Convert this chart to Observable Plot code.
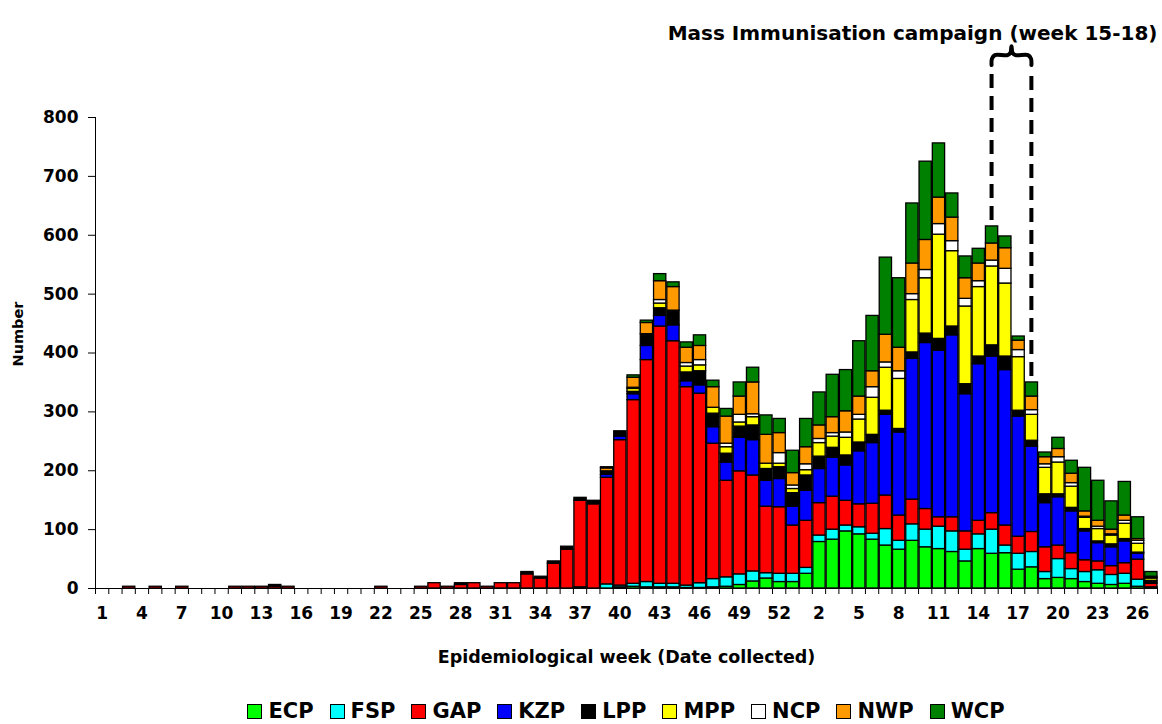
<!DOCTYPE html>
<html>
<head>
<meta charset="utf-8">
<script src="https://cdn.jsdelivr.net/npm/d3@7"></script>
<script src="https://cdn.jsdelivr.net/npm/@observablehq/plot@0.6"></script>
<style>
  body { margin: 0; background: #fff; }
  #wrap { position: relative; width: 1162px; height: 724px; overflow: hidden; }
  #legend { position: absolute; left: 95px; top: 700px; width: 1062px; height: 22px;
            display: flex; justify-content: center; align-items: center;
            font: bold 21px/22px "DejaVu Sans", sans-serif; color: #000; }
  #legend .item { display: inline-flex; align-items: center; margin: 0 8px; white-space: nowrap; }
  #legend .sw { display: inline-block; width: 15px; height: 15px; border: 1.5px solid #000;
                box-sizing: border-box; margin-right: 6px; }
</style>
</head>
<body>
<div id="wrap"><div id="legend"></div></div>
<script>
// Epidemiological weeks: 2009 (weeks 1-53) then 2010 (weeks 1-27)
const weekLabels = [
  1,2,3,4,5,6,7,8,9,10,11,12,13,14,15,16,17,18,19,20,21,22,23,24,25,26,27,28,29,30,
  31,32,33,34,35,36,37,38,39,40,41,42,43,44,45,46,47,48,49,50,51,52,53,
  1,2,3,4,5,6,7,8,9,10,11,12,13,14,15,16,17,18,19,20,21,22,23,24,25,26,27
];
const seriesNames  = ["ECP","FSP","GAP","KZP","LPP","MPP","NCP","NWP","WCP"];
const seriesColors = ["#00ff00","#00ffff","#ff0000","#0000ff","#000000","#ffff00","#ffffff","#ff9900","#008000"];

const ECP = [0,0,0,0,0,0,0,0,0,0, 0,0,0,0,0,0,0,0,0,0, 0,0,0,0,0,0,0,0,0,0,
  0,0,0,0,0,0,2,0,0,2, 3,2,2,2,1,1,2,3,6,12, 17,11,11,25,79,83,97,92,83,73,
  66,81,70,67,62,46,67,59,60,32, 36,16,18,16,11,8,6,8,3,1];
const FSP = [0,0,0,0,0,0,0,0,0,0, 0,0,0,0,0,0,0,0,0,0, 0,0,0,0,0,0,0,0,0,0,
  0,0,0,0,0,0,0,0,7,3, 5,9,6,6,4,8,14,16,18,17, 9,14,14,10,11,17,10,12,10,28,
  15,28,30,38,35,20,25,41,13,27, 26,12,32,17,17,23,17,17,12,1];
const GAP = [0,0,3,0,3,0,3,0,0,0, 3,3,3,3,3,0,0,0,0,0, 0,3,0,0,3,9,3,6,9,3,
  9,9,24,17,42,66,147,143,181,247, 312,377,437,412,337,322,230,164,175,163, 113,113,82,80,55,56,42,39,51,57,
  43,42,35,16,24,31,23,28,34,29, 34,42,23,27,20,15,15,18,34,6];
const KZP = [0,0,0,0,0,0,0,0,0,0, 0,0,0,0,0,0,0,0,0,0, 0,0,0,0,0,0,0,0,0,0,
  0,0,0,0,0,0,0,0,5,6, 10,24,18,27,10,14,28,31,57,60, 44,48,32,51,58,66,60,90,103,137,
  141,239,282,283,309,233,266,266,264,204, 145,75,82,71,49,31,32,37,10,2];
const LPP = [0,0,0,0,0,0,0,0,0,0, 0,0,0,3,0,0,0,0,0,0, 0,0,0,0,0,0,0,3,0,0,
  0,0,4,3,4,5,5,6,6,9, 4,20,13,25,15,24,23,15,19,25, 20,20,23,26,21,17,17,15,14,7,
  6,11,16,20,15,17,13,19,23,10, 10,15,5,6,4,3,5,4,2,3];
const MPP = [0,0,0,0,0,0,0,0,0,0, 0,0,0,0,0,0,0,0,0,0, 0,0,0,0,0,0,0,0,0,0,
  0,0,0,0,0,0,0,0,0,0, 5,0,8,0,10,10,10,11,7,14, 9,6,7,9,23,19,30,39,63,73,
  85,89,94,177,128,132,118,134,124,91, 44,45,54,36,19,21,15,26,15,4];
const NCP = [0,0,0,0,0,0,0,0,0,0, 0,0,0,0,0,0,0,0,0,0, 0,0,0,0,0,0,0,0,0,0,
  0,0,0,0,0,0,0,0,0,0, 2,0,6,0,6,9,0,6,13,5, 0,18,6,10,7,6,9,8,18,9,
  13,10,14,18,17,13,10,10,25,12, 8,6,9,6,2,4,2,5,5,1];
const NWP = [0,0,0,0,0,0,0,0,0,0, 0,0,0,0,0,0,0,0,0,0, 0,0,0,0,0,0,0,0,0,0,
  0,0,0,0,0,0,0,0,5,0, 17,19,32,40,26,24,35,46,31,54, 49,34,21,29,23,27,36,31,27,47,
  40,52,51,45,40,35,30,29,35,16, 23,12,14,16,9,10,8,9,3,2];
const WCP = [0,0,0,0,0,0,0,0,0,0, 0,0,0,0,0,0,0,0,0,0, 0,0,0,0,0,0,0,0,0,0,
  0,0,0,0,0,0,0,0,2,0, 4,4,12,8,9,18,11,13,24,25, 33,24,38,48,56,72,70,94,94,131,
  118,102,133,92,41,37,25,29,20,7, 24,8,19,22,74,68,48,57,37,8];

const seriesValues = [ECP, FSP, GAP, KZP, LPP, MPP, NCP, NWP, WCP];
const yTicks = [0,100,200,300,400,500,600,700,800];
const labelEvery = 3;
const chartTitle = "Mass Immunisation campaign (week 15-18)";
const xTitle = "Epidemiological week (Date collected)";
const yTitle = "Number";
const campaignWeeks = [15, 18]; // weeks of 2010

// long table for the stacked bars
const rows = [];
seriesNames.forEach((s, k) => seriesValues[k].forEach((v, i) => {
  if (v > 0) rows.push({idx: i, week: weekLabels[i], series: s, value: v});
}));
const nCat = weekLabels.length;
const totals = weekLabels.map((_, i) => d3.sum(seriesValues, a => a[i]));
const boundaries = d3.range(0, nCat + 1);
const labelPos = d3.range(0, nCat, labelEvery).map(i => i + 0.5);

// annotation geometry (data units)
const year2Start = weekLabels.indexOf(1, 1);
const campaignRows = campaignWeeks.map(w => {
  const i = year2Start + w - 1;
  return {pos: i + 0.5, top: totals[i] + 10};
});
const dashTop = 879, braceFoot = 889, braceLevel = 906, bracePeak = 921;
const xa = campaignRows[0].pos, xb = campaignRows[1].pos, xm = (xa + xb) / 2;
const bracePts = [
  {x: xa, y: braceFoot}, {x: xa + 0.03, y: braceLevel - 6}, {x: xa + 0.25, y: braceLevel},
  {x: xm - 0.3, y: braceLevel}, {x: xm - 0.08, y: braceLevel + 4}, {x: xm, y: bracePeak},
  {x: xm + 0.08, y: braceLevel + 4}, {x: xm + 0.3, y: braceLevel},
  {x: xb - 0.25, y: braceLevel}, {x: xb - 0.03, y: braceLevel - 6}, {x: xb, y: braceFoot}
];

const chart = Plot.plot({
  width: 1162, height: 724,
  marginLeft: 95, marginRight: 5, marginTop: 117, marginBottom: 136,
  style: {fontFamily: '"DejaVu Sans", sans-serif', fontWeight: "bold", fontSize: "17px", color: "#000", background: "#fff"},
  x: {domain: [0, nCat], axis: null},
  y: {domain: [0, 800], axis: null},
  color: {domain: seriesNames, range: seriesColors},
  marks: [
    Plot.rectY(rows, {x: "idx", interval: 1, y: "value", fill: "series", order: seriesNames,
                      stroke: "#000", strokeWidth: 1.3}),
    Plot.ruleX(boundaries, {x: d => d, y1: 0, y2: 0, insetBottom: -6, stroke: "#000"}),
    Plot.ruleY([0], {stroke: "#000", strokeWidth: 1.2}),
    Plot.ruleX([0], {y1: 0, y2: 800, stroke: "#000"}),
    Plot.axisY({ticks: yTicks, tickSize: 7, tickPadding: 10, fontSize: 17, label: null}),
    Plot.axisX({ticks: labelPos, tickSize: 0, tickPadding: 18, fontSize: 17, label: null,
                tickFormat: d => String(weekLabels[Math.floor(d)])}),
    Plot.text([xTitle], {frameAnchor: "bottom", dy: 69, lineAnchor: "middle", textAnchor: "middle", fontSize: 17.5}),
    Plot.text([yTitle], {frameAnchor: "left", rotate: -90, dx: -77, dy: -19, lineAnchor: "middle", textAnchor: "middle", fontSize: 14.5}),
    Plot.text([chartTitle], {frameAnchor: "top-right", textAnchor: "end", dy: -84, lineAnchor: "middle", fontSize: 20}),
    Plot.ruleX(campaignRows, {x: "pos", y1: "top", y2: dashTop, stroke: "#000", strokeWidth: 4, strokeDasharray: "14,8"}),
    Plot.line(bracePts, {x: "x", y: "y", curve: "catmull-rom", stroke: "#000", strokeWidth: 4, strokeLinejoin: "round"})
  ]
});
document.getElementById("wrap").prepend(chart);

// legend (HTML, below the plot area)
const legend = document.getElementById("legend");
seriesNames.forEach((s, k) => {
  const item = document.createElement("span");
  item.className = "item";
  const sw = document.createElement("span");
  sw.className = "sw";
  sw.style.background = seriesColors[k];
  item.appendChild(sw);
  item.appendChild(document.createTextNode(s));
  legend.appendChild(item);
});
</script>
</body>
</html>
